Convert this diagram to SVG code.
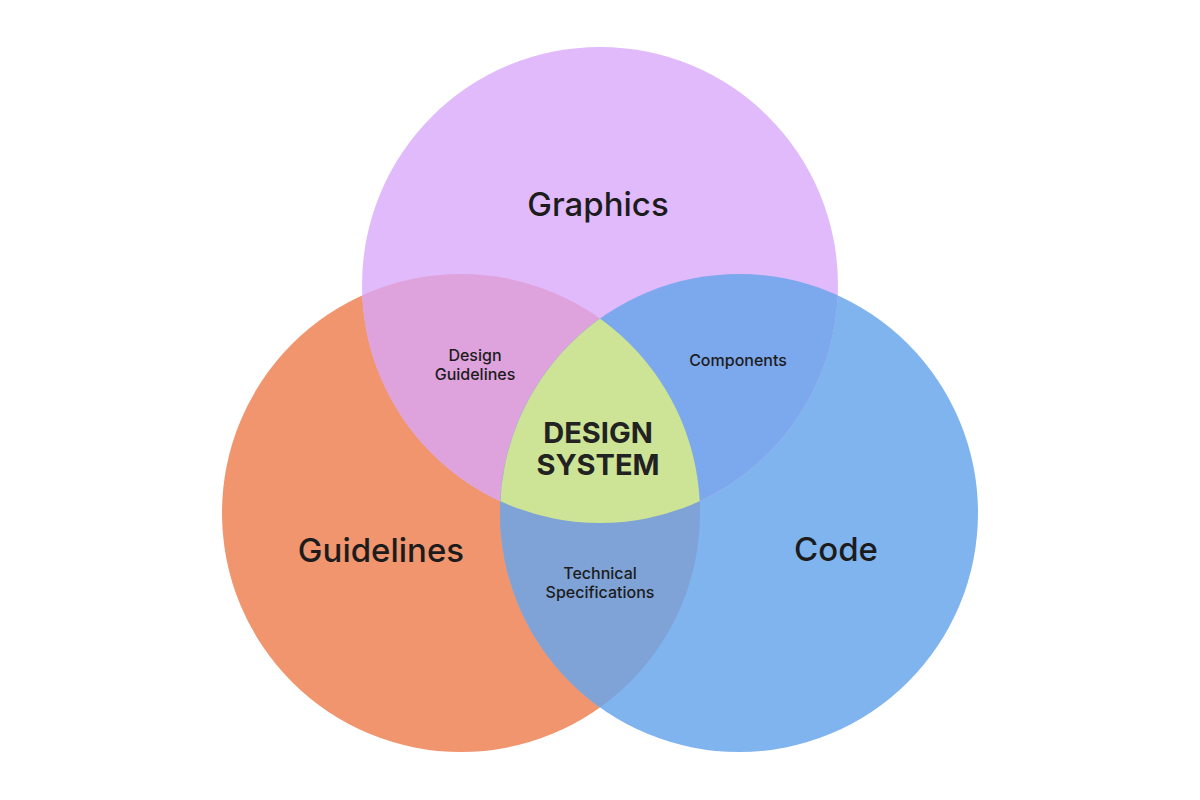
<svg xmlns="http://www.w3.org/2000/svg" width="1200" height="800" viewBox="0 0 1200 800">
<style>
.big{font-family:Inter,"Noto Sans","Liberation Sans",sans-serif;font-weight:500;font-size:33px;fill:#1c1c1c;text-anchor:middle}
.small{font-family:Inter,"Noto Sans","Liberation Sans",sans-serif;font-weight:500;font-size:16px;fill:#1c1c1c;text-anchor:middle}
.core{font-family:Inter,"Noto Sans","Liberation Sans",sans-serif;font-weight:700;font-size:29px;fill:#222;text-anchor:middle}
</style>
<defs>
<clipPath id="cG"><circle cx="600" cy="285" r="238"/></clipPath>
<clipPath id="cO"><circle cx="461" cy="513" r="239"/></clipPath>
<clipPath id="cB"><circle cx="739" cy="513" r="239"/></clipPath>
</defs>
<rect width="1200" height="800" fill="#ffffff"/>
<g id="guidelines"><circle cx="461" cy="513" r="239" fill="#F0956E"/></g>
<g id="code"><circle cx="739" cy="513" r="239" fill="#80B4EE"/></g>
<g id="graphics"><circle cx="600" cy="285" r="238" fill="#E1BAFB"/></g>
<g id="overlap-design-guidelines" clip-path="url(#cG)"><circle cx="461" cy="513" r="239" fill="#DEA3DC"/></g>
<g id="overlap-components" clip-path="url(#cG)"><circle cx="739" cy="513" r="239" fill="#7CA8EE"/></g>
<g id="overlap-technical" clip-path="url(#cO)"><circle cx="739" cy="513" r="239" fill="#7FA3D6"/></g>
<g id="design-system" clip-path="url(#cG)"><g clip-path="url(#cO)"><circle cx="739" cy="513" r="239" fill="#CDE395"/></g></g>
<g id="labels">
<text class="big" x="598" y="216">Graphics</text>
<text class="big" x="381" y="562">Guidelines</text>
<text class="big" x="836" y="561">Code</text>
<text class="small" x="475" y="361">Design</text>
<text class="small" x="475" y="380">Guidelines</text>
<text class="small" x="738" y="366">Components</text>
<text class="small" x="600" y="579">Technical</text>
<text class="small" x="600" y="598">Specifications</text>
<text class="core" x="598" y="443">DESIGN</text>
<text class="core" x="598" y="475">SYSTEM</text>
</g>
</svg>
